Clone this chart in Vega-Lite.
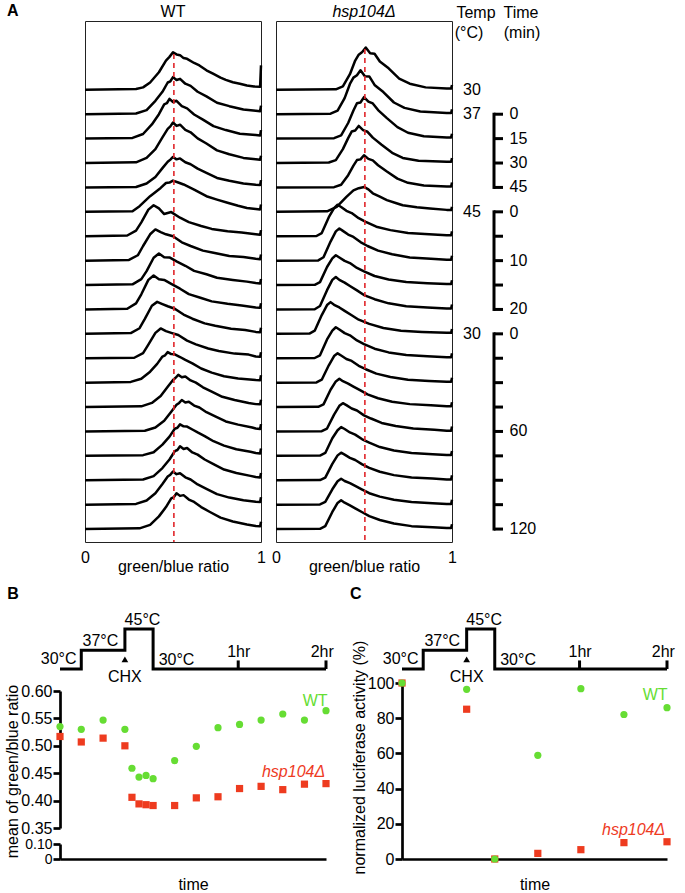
{
"$schema": "https://vega.github.io/schema/vega-lite/v6.json",
"padding": {"left": 4, "top": 2, "right": 4, "bottom": 2},
"background": "white",
"config": {
  "font": "Liberation Sans",
  "view": {"stroke": null},
  "axis": {"labelFont": "Liberation Sans", "titleFont": "Liberation Sans", "labelFontSize": 16, "titleFontSize": 16, "titleFontWeight": "normal", "labelColor": "black", "titleColor": "black", "domainColor": "black", "tickColor": "black", "grid": false, "labelOverlap": false},
  "text": {"font": "Liberation Sans", "fontSize": 16, "color": "black"}
},
"datasets": {
"wt": [
{"c":0,"x":0,"d":0},{"c":0,"x":0.29,"d":0.03},{"c":0,"x":0.33,"d":0.1},{"c":0,"x":0.37,"d":0.3},{"c":0,"x":0.42,"d":0.72},{"c":0,"x":0.46,"d":1.2},{"c":0,"x":0.48,"d":1.35},{"c":0,"x":0.5,"d":1.54},{"c":0,"x":0.52,"d":1.45},{"c":0,"x":0.54,"d":1.42},{"c":0,"x":0.56,"d":1.3},{"c":0,"x":0.58,"d":1.27},{"c":0,"x":0.62,"d":1.1},{"c":0,"x":0.65,"d":1.0},{"c":0,"x":0.69,"d":0.8},{"c":0,"x":0.73,"d":0.65},{"c":0,"x":0.77,"d":0.5},{"c":0,"x":0.8,"d":0.41},{"c":0,"x":0.84,"d":0.31},{"c":0,"x":0.88,"d":0.25},{"c":0,"x":0.92,"d":0.18},{"c":0,"x":0.96,"d":0.14},{"c":0,"x":0.995,"d":0.13},{"c":0,"x":1,"d":1.0},
{"c":1,"x":0,"d":0},{"c":1,"x":0.29,"d":0.03},{"c":1,"x":0.35,"d":0.17},{"c":1,"x":0.4,"d":0.55},{"c":1,"x":0.44,"d":0.92},{"c":1,"x":0.47,"d":1.3},{"c":1,"x":0.485,"d":1.35},{"c":1,"x":0.5,"d":1.52},{"c":1,"x":0.52,"d":1.4},{"c":1,"x":0.54,"d":1.45},{"c":1,"x":0.57,"d":1.25},{"c":1,"x":0.6,"d":1.16},{"c":1,"x":0.64,"d":0.92},{"c":1,"x":0.69,"d":0.73},{"c":1,"x":0.75,"d":0.47},{"c":1,"x":0.82,"d":0.33},{"c":1,"x":0.9,"d":0.19},{"c":1,"x":0.97,"d":0.14},{"c":1,"x":0.995,"d":0.12},{"c":1,"x":1,"d":0.35},
{"c":2,"x":0,"d":0},{"c":2,"x":0.27,"d":0.03},{"c":2,"x":0.33,"d":0.19},{"c":2,"x":0.38,"d":0.58},{"c":2,"x":0.42,"d":1.0},{"c":2,"x":0.45,"d":1.4},{"c":2,"x":0.465,"d":1.45},{"c":2,"x":0.48,"d":1.63},{"c":2,"x":0.5,"d":1.5},{"c":2,"x":0.52,"d":1.55},{"c":2,"x":0.55,"d":1.33},{"c":2,"x":0.58,"d":1.24},{"c":2,"x":0.62,"d":0.99},{"c":2,"x":0.67,"d":0.78},{"c":2,"x":0.73,"d":0.51},{"c":2,"x":0.8,"d":0.35},{"c":2,"x":0.88,"d":0.2},{"c":2,"x":0.97,"d":0.15},{"c":2,"x":0.995,"d":0.13},{"c":2,"x":1,"d":0.35},
{"c":3,"x":0,"d":0},{"c":3,"x":0.29,"d":0.03},{"c":3,"x":0.35,"d":0.21},{"c":3,"x":0.4,"d":0.57},{"c":3,"x":0.44,"d":1.05},{"c":3,"x":0.47,"d":1.4},{"c":3,"x":0.485,"d":1.5},{"c":3,"x":0.5,"d":1.66},{"c":3,"x":0.52,"d":1.52},{"c":3,"x":0.54,"d":1.57},{"c":3,"x":0.57,"d":1.36},{"c":3,"x":0.6,"d":1.26},{"c":3,"x":0.64,"d":1.01},{"c":3,"x":0.69,"d":0.8},{"c":3,"x":0.75,"d":0.52},{"c":3,"x":0.82,"d":0.36},{"c":3,"x":0.9,"d":0.21},{"c":3,"x":0.97,"d":0.15},{"c":3,"x":0.995,"d":0.13},{"c":3,"x":1,"d":0.3},
{"c":4,"x":0,"d":0},{"c":4,"x":0.29,"d":0.02},{"c":4,"x":0.35,"d":0.16},{"c":4,"x":0.4,"d":0.43},{"c":4,"x":0.44,"d":0.79},{"c":4,"x":0.47,"d":1.05},{"c":4,"x":0.485,"d":1.14},{"c":4,"x":0.5,"d":1.25},{"c":4,"x":0.52,"d":1.15},{"c":4,"x":0.54,"d":1.19},{"c":4,"x":0.57,"d":1.03},{"c":4,"x":0.6,"d":0.95},{"c":4,"x":0.64,"d":0.77},{"c":4,"x":0.69,"d":0.6},{"c":4,"x":0.75,"d":0.39},{"c":4,"x":0.82,"d":0.27},{"c":4,"x":0.9,"d":0.16},{"c":4,"x":0.97,"d":0.11},{"c":4,"x":0.995,"d":0.1},{"c":4,"x":1,"d":0.3},
{"c":5,"x":0,"d":0},{"c":5,"x":0.27,"d":0.02},{"c":5,"x":0.31,"d":0.23},{"c":5,"x":0.37,"d":0.64},{"c":5,"x":0.43,"d":0.98},{"c":5,"x":0.46,"d":1.18},{"c":5,"x":0.48,"d":1.2},{"c":5,"x":0.5,"d":1.28},{"c":5,"x":0.53,"d":1.2},{"c":5,"x":0.56,"d":1.12},{"c":5,"x":0.62,"d":0.91},{"c":5,"x":0.69,"d":0.64},{"c":5,"x":0.75,"d":0.5},{"c":5,"x":0.81,"d":0.37},{"c":5,"x":0.87,"d":0.25},{"c":5,"x":0.92,"d":0.16},{"c":5,"x":0.97,"d":0.12},{"c":5,"x":0.995,"d":0.1},{"c":5,"x":1,"d":0.3},
{"c":6,"x":0,"d":0},{"c":6,"x":0.24,"d":0.03},{"c":6,"x":0.29,"d":0.23},{"c":6,"x":0.32,"d":0.57},{"c":6,"x":0.36,"d":1.09},{"c":6,"x":0.39,"d":1.27},{"c":6,"x":0.42,"d":1.14},{"c":6,"x":0.45,"d":0.91},{"c":6,"x":0.49,"d":0.99},{"c":6,"x":0.54,"d":0.76},{"c":6,"x":0.59,"d":0.58},{"c":6,"x":0.66,"d":0.42},{"c":6,"x":0.72,"d":0.3},{"c":6,"x":0.81,"d":0.2},{"c":6,"x":0.89,"d":0.15},{"c":6,"x":0.97,"d":0.08},{"c":6,"x":0.995,"d":0.06},{"c":6,"x":1,"d":0.25},
{"c":7,"x":0,"d":0},{"c":7,"x":0.25,"d":0.03},{"c":7,"x":0.3,"d":0.22},{"c":7,"x":0.33,"d":0.6},{"c":7,"x":0.37,"d":1.08},{"c":7,"x":0.4,"d":1.28},{"c":7,"x":0.43,"d":1.17},{"c":7,"x":0.46,"d":1.08},{"c":7,"x":0.5,"d":1.0},{"c":7,"x":0.55,"d":0.75},{"c":7,"x":0.6,"d":0.6},{"c":7,"x":0.67,"d":0.41},{"c":7,"x":0.73,"d":0.32},{"c":7,"x":0.82,"d":0.19},{"c":7,"x":0.9,"d":0.15},{"c":7,"x":0.97,"d":0.08},{"c":7,"x":0.995,"d":0.06},{"c":7,"x":1,"d":0.25},
{"c":8,"x":0,"d":0},{"c":8,"x":0.27,"d":0.03},{"c":8,"x":0.32,"d":0.24},{"c":8,"x":0.35,"d":0.57},{"c":8,"x":0.39,"d":1.12},{"c":8,"x":0.42,"d":1.29},{"c":8,"x":0.45,"d":1.14},{"c":8,"x":0.48,"d":1.13},{"c":8,"x":0.52,"d":0.97},{"c":8,"x":0.57,"d":0.79},{"c":8,"x":0.62,"d":0.58},{"c":8,"x":0.69,"d":0.44},{"c":8,"x":0.75,"d":0.3},{"c":8,"x":0.84,"d":0.21},{"c":8,"x":0.92,"d":0.14},{"c":8,"x":0.97,"d":0.08},{"c":8,"x":0.995,"d":0.06},{"c":8,"x":1,"d":0.25},
{"c":9,"x":0,"d":0},{"c":9,"x":0.24,"d":0.03},{"c":9,"x":0.29,"d":0.25},{"c":9,"x":0.32,"d":0.62},{"c":9,"x":0.36,"d":1.21},{"c":9,"x":0.39,"d":1.39},{"c":9,"x":0.42,"d":1.24},{"c":9,"x":0.45,"d":1.21},{"c":9,"x":0.49,"d":1.05},{"c":9,"x":0.54,"d":0.85},{"c":9,"x":0.59,"d":0.63},{"c":9,"x":0.66,"d":0.47},{"c":9,"x":0.72,"d":0.33},{"c":9,"x":0.81,"d":0.23},{"c":9,"x":0.89,"d":0.16},{"c":9,"x":0.97,"d":0.08},{"c":9,"x":0.995,"d":0.07},{"c":9,"x":1,"d":0.25},
{"c":10,"x":0,"d":0},{"c":10,"x":0.26,"d":0.03},{"c":10,"x":0.31,"d":0.23},{"c":10,"x":0.34,"d":0.61},{"c":10,"x":0.38,"d":1.15},{"c":10,"x":0.41,"d":1.31},{"c":10,"x":0.44,"d":1.22},{"c":10,"x":0.47,"d":1.13},{"c":10,"x":0.51,"d":1.03},{"c":10,"x":0.56,"d":0.79},{"c":10,"x":0.61,"d":0.62},{"c":10,"x":0.68,"d":0.43},{"c":10,"x":0.74,"d":0.33},{"c":10,"x":0.83,"d":0.21},{"c":10,"x":0.91,"d":0.16},{"c":10,"x":0.97,"d":0.08},{"c":10,"x":0.995,"d":0.07},{"c":10,"x":1,"d":0.25},
{"c":11,"x":0,"d":0},{"c":11,"x":0.28,"d":0.02},{"c":11,"x":0.33,"d":0.21},{"c":11,"x":0.36,"d":0.56},{"c":11,"x":0.4,"d":1.04},{"c":11,"x":0.43,"d":1.22},{"c":11,"x":0.46,"d":1.11},{"c":11,"x":0.49,"d":1.04},{"c":11,"x":0.53,"d":0.95},{"c":11,"x":0.58,"d":0.72},{"c":11,"x":0.63,"d":0.57},{"c":11,"x":0.7,"d":0.4},{"c":11,"x":0.76,"d":0.3},{"c":11,"x":0.85,"d":0.19},{"c":11,"x":0.93,"d":0.15},{"c":11,"x":0.97,"d":0.07},{"c":11,"x":0.995,"d":0.06},{"c":11,"x":1,"d":0.25},
{"c":12,"x":0,"d":0},{"c":12,"x":0.26,"d":0.03},{"c":12,"x":0.32,"d":0.16},{"c":12,"x":0.37,"d":0.45},{"c":12,"x":0.41,"d":0.77},{"c":12,"x":0.44,"d":1.07},{"c":12,"x":0.455,"d":1.12},{"c":12,"x":0.47,"d":1.25},{"c":12,"x":0.49,"d":1.17},{"c":12,"x":0.51,"d":1.16},{"c":12,"x":0.54,"d":1.05},{"c":12,"x":0.57,"d":0.93},{"c":12,"x":0.61,"d":0.79},{"c":12,"x":0.66,"d":0.58},{"c":12,"x":0.72,"d":0.41},{"c":12,"x":0.79,"d":0.26},{"c":12,"x":0.87,"d":0.17},{"c":12,"x":0.97,"d":0.11},{"c":12,"x":0.995,"d":0.1},{"c":12,"x":1,"d":0.3},
{"c":13,"x":0,"d":0},{"c":13,"x":0.32,"d":0.03},{"c":13,"x":0.38,"d":0.17},{"c":13,"x":0.43,"d":0.45},{"c":13,"x":0.47,"d":0.83},{"c":13,"x":0.5,"d":1.11},{"c":13,"x":0.515,"d":1.2},{"c":13,"x":0.53,"d":1.32},{"c":13,"x":0.55,"d":1.22},{"c":13,"x":0.57,"d":1.25},{"c":13,"x":0.6,"d":1.09},{"c":13,"x":0.63,"d":1.0},{"c":13,"x":0.67,"d":0.81},{"c":13,"x":0.72,"d":0.63},{"c":13,"x":0.78,"d":0.42},{"c":13,"x":0.85,"d":0.29},{"c":13,"x":0.93,"d":0.17},{"c":13,"x":0.97,"d":0.12},{"c":13,"x":0.995,"d":0.11},{"c":13,"x":1,"d":0.3},
{"c":14,"x":0,"d":0},{"c":14,"x":0.34,"d":0.03},{"c":14,"x":0.4,"d":0.16},{"c":14,"x":0.45,"d":0.44},{"c":14,"x":0.49,"d":0.81},{"c":14,"x":0.52,"d":1.09},{"c":14,"x":0.535,"d":1.17},{"c":14,"x":0.55,"d":1.29},{"c":14,"x":0.57,"d":1.19},{"c":14,"x":0.59,"d":1.22},{"c":14,"x":0.62,"d":1.06},{"c":14,"x":0.65,"d":0.98},{"c":14,"x":0.69,"d":0.79},{"c":14,"x":0.74,"d":0.62},{"c":14,"x":0.8,"d":0.41},{"c":14,"x":0.87,"d":0.28},{"c":14,"x":0.95,"d":0.16},{"c":14,"x":0.97,"d":0.12},{"c":14,"x":0.995,"d":0.1},{"c":14,"x":1,"d":0.3},
{"c":15,"x":0,"d":0},{"c":15,"x":0.33,"d":0.03},{"c":15,"x":0.39,"d":0.15},{"c":15,"x":0.44,"d":0.46},{"c":15,"x":0.48,"d":0.79},{"c":15,"x":0.51,"d":1.11},{"c":15,"x":0.525,"d":1.15},{"c":15,"x":0.54,"d":1.29},{"c":15,"x":0.56,"d":1.21},{"c":15,"x":0.58,"d":1.2},{"c":15,"x":0.61,"d":1.08},{"c":15,"x":0.64,"d":0.96},{"c":15,"x":0.68,"d":0.81},{"c":15,"x":0.73,"d":0.6},{"c":15,"x":0.79,"d":0.42},{"c":15,"x":0.86,"d":0.27},{"c":15,"x":0.94,"d":0.17},{"c":15,"x":0.97,"d":0.12},{"c":15,"x":0.995,"d":0.1},{"c":15,"x":1,"d":0.3},
{"c":16,"x":0,"d":0},{"c":16,"x":0.33,"d":0.03},{"c":16,"x":0.39,"d":0.17},{"c":16,"x":0.44,"d":0.5},{"c":16,"x":0.48,"d":0.85},{"c":16,"x":0.51,"d":1.19},{"c":16,"x":0.525,"d":1.24},{"c":16,"x":0.54,"d":1.39},{"c":16,"x":0.56,"d":1.28},{"c":16,"x":0.58,"d":1.32},{"c":16,"x":0.61,"d":1.14},{"c":16,"x":0.64,"d":1.05},{"c":16,"x":0.68,"d":0.85},{"c":16,"x":0.73,"d":0.66},{"c":16,"x":0.79,"d":0.44},{"c":16,"x":0.86,"d":0.3},{"c":16,"x":0.94,"d":0.18},{"c":16,"x":0.97,"d":0.13},{"c":16,"x":0.995,"d":0.11},{"c":16,"x":1,"d":0.3},
{"c":17,"x":0,"d":0},{"c":17,"x":0.29,"d":0.03},{"c":17,"x":0.35,"d":0.17},{"c":17,"x":0.4,"d":0.47},{"c":17,"x":0.44,"d":0.85},{"c":17,"x":0.47,"d":1.15},{"c":17,"x":0.485,"d":1.23},{"c":17,"x":0.5,"d":1.36},{"c":17,"x":0.52,"d":1.25},{"c":17,"x":0.54,"d":1.29},{"c":17,"x":0.57,"d":1.12},{"c":17,"x":0.6,"d":1.03},{"c":17,"x":0.64,"d":0.83},{"c":17,"x":0.69,"d":0.65},{"c":17,"x":0.75,"d":0.43},{"c":17,"x":0.82,"d":0.29},{"c":17,"x":0.9,"d":0.18},{"c":17,"x":0.97,"d":0.12},{"c":17,"x":0.995,"d":0.11},{"c":17,"x":1,"d":0.3},
{"c":18,"x":0,"d":0},{"c":18,"x":0.31,"d":0.03},{"c":18,"x":0.37,"d":0.17},{"c":18,"x":0.42,"d":0.52},{"c":18,"x":0.46,"d":0.9},{"c":18,"x":0.49,"d":1.26},{"c":18,"x":0.505,"d":1.31},{"c":18,"x":0.52,"d":1.47},{"c":18,"x":0.54,"d":1.36},{"c":18,"x":0.56,"d":1.39},{"c":18,"x":0.59,"d":1.21},{"c":18,"x":0.62,"d":1.11},{"c":18,"x":0.66,"d":0.9},{"c":18,"x":0.71,"d":0.7},{"c":18,"x":0.77,"d":0.47},{"c":18,"x":0.84,"d":0.31},{"c":18,"x":0.92,"d":0.19},{"c":18,"x":0.97,"d":0.13},{"c":18,"x":0.995,"d":0.12},{"c":18,"x":1,"d":0.3}
],
"hsp": [
{"c":0,"x":0,"d":0},{"c":0,"x":0.34,"d":0.02},{"c":0,"x":0.38,"d":0.14},{"c":0,"x":0.42,"d":0.64},{"c":0,"x":0.45,"d":1.2},{"c":0,"x":0.47,"d":1.44},{"c":0,"x":0.49,"d":1.55},{"c":0,"x":0.51,"d":1.73},{"c":0,"x":0.535,"d":1.5},{"c":0,"x":0.56,"d":1.48},{"c":0,"x":0.59,"d":1.16},{"c":0,"x":0.64,"d":0.88},{"c":0,"x":0.7,"d":0.46},{"c":0,"x":0.76,"d":0.25},{"c":0,"x":0.85,"d":0.1},{"c":0,"x":0.97,"d":0.05},{"c":0,"x":0.995,"d":0.05},{"c":0,"x":1,"d":0.2},
{"c":1,"x":0,"d":0},{"c":1,"x":0.31,"d":0.02},{"c":1,"x":0.35,"d":0.15},{"c":1,"x":0.39,"d":0.66},{"c":1,"x":0.42,"d":1.24},{"c":1,"x":0.44,"d":1.5},{"c":1,"x":0.46,"d":1.6},{"c":1,"x":0.48,"d":1.8},{"c":1,"x":0.505,"d":1.56},{"c":1,"x":0.53,"d":1.55},{"c":1,"x":0.56,"d":1.2},{"c":1,"x":0.61,"d":0.91},{"c":1,"x":0.67,"d":0.48},{"c":1,"x":0.73,"d":0.26},{"c":1,"x":0.82,"d":0.11},{"c":1,"x":0.97,"d":0.05},{"c":1,"x":0.995,"d":0.05},{"c":1,"x":1,"d":0.2},
{"c":2,"x":0,"d":0},{"c":2,"x":0.33,"d":0.02},{"c":2,"x":0.37,"d":0.13},{"c":2,"x":0.41,"d":0.64},{"c":2,"x":0.44,"d":1.15},{"c":2,"x":0.46,"d":1.45},{"c":2,"x":0.48,"d":1.48},{"c":2,"x":0.5,"d":1.7},{"c":2,"x":0.525,"d":1.52},{"c":2,"x":0.55,"d":1.44},{"c":2,"x":0.58,"d":1.17},{"c":2,"x":0.63,"d":0.84},{"c":2,"x":0.69,"d":0.47},{"c":2,"x":0.75,"d":0.24},{"c":2,"x":0.84,"d":0.1},{"c":2,"x":0.97,"d":0.05},{"c":2,"x":0.995,"d":0.05},{"c":2,"x":1,"d":0.2},
{"c":3,"x":0,"d":0},{"c":3,"x":0.3,"d":0.02},{"c":3,"x":0.34,"d":0.12},{"c":3,"x":0.38,"d":0.57},{"c":3,"x":0.41,"d":1.02},{"c":3,"x":0.43,"d":1.29},{"c":3,"x":0.45,"d":1.33},{"c":3,"x":0.47,"d":1.52},{"c":3,"x":0.495,"d":1.35},{"c":3,"x":0.52,"d":1.28},{"c":3,"x":0.55,"d":1.04},{"c":3,"x":0.6,"d":0.75},{"c":3,"x":0.66,"d":0.42},{"c":3,"x":0.72,"d":0.21},{"c":3,"x":0.81,"d":0.09},{"c":3,"x":0.97,"d":0.05},{"c":3,"x":0.995,"d":0.05},{"c":3,"x":1,"d":0.2},
{"c":4,"x":0,"d":0},{"c":4,"x":0.33,"d":0.01},{"c":4,"x":0.37,"d":0.11},{"c":4,"x":0.41,"d":0.5},{"c":4,"x":0.44,"d":0.89},{"c":4,"x":0.46,"d":1.12},{"c":4,"x":0.48,"d":1.15},{"c":4,"x":0.5,"d":1.32},{"c":4,"x":0.525,"d":1.17},{"c":4,"x":0.55,"d":1.11},{"c":4,"x":0.58,"d":0.91},{"c":4,"x":0.63,"d":0.65},{"c":4,"x":0.69,"d":0.36},{"c":4,"x":0.75,"d":0.19},{"c":4,"x":0.84,"d":0.08},{"c":4,"x":0.97,"d":0.04},{"c":4,"x":0.995,"d":0.04},{"c":4,"x":1,"d":0.2},
{"c":5,"x":0,"d":0},{"c":5,"x":0.29,"d":0.02},{"c":5,"x":0.345,"d":0.2},{"c":5,"x":0.4,"d":0.61},{"c":5,"x":0.44,"d":0.88},{"c":5,"x":0.47,"d":0.97},{"c":5,"x":0.5,"d":1.02},{"c":5,"x":0.525,"d":0.92},{"c":5,"x":0.55,"d":0.76},{"c":5,"x":0.59,"d":0.62},{"c":5,"x":0.63,"d":0.48},{"c":5,"x":0.68,"d":0.36},{"c":5,"x":0.72,"d":0.27},{"c":5,"x":0.8,"d":0.19},{"c":5,"x":0.875,"d":0.14},{"c":5,"x":0.97,"d":0.08},{"c":5,"x":0.995,"d":0.07},{"c":5,"x":1,"d":0.2},
{"c":6,"x":0,"d":0},{"c":6,"x":0.23,"d":0.01},{"c":6,"x":0.26,"d":0.13},{"c":6,"x":0.3,"d":0.78},{"c":6,"x":0.33,"d":1.15},{"c":6,"x":0.35,"d":1.29},{"c":6,"x":0.37,"d":1.2},{"c":6,"x":0.4,"d":1.04},{"c":6,"x":0.43,"d":0.95},{"c":6,"x":0.47,"d":0.74},{"c":6,"x":0.51,"d":0.59},{"c":6,"x":0.57,"d":0.39},{"c":6,"x":0.65,"d":0.25},{"c":6,"x":0.75,"d":0.13},{"c":6,"x":0.87,"d":0.08},{"c":6,"x":0.97,"d":0.04},{"c":6,"x":0.995,"d":0.04},{"c":6,"x":1,"d":0.2},
{"c":7,"x":0,"d":0},{"c":7,"x":0.24,"d":0.01},{"c":7,"x":0.27,"d":0.14},{"c":7,"x":0.31,"d":0.78},{"c":7,"x":0.34,"d":1.2},{"c":7,"x":0.36,"d":1.32},{"c":7,"x":0.38,"d":1.22},{"c":7,"x":0.41,"d":1.07},{"c":7,"x":0.44,"d":0.97},{"c":7,"x":0.48,"d":0.76},{"c":7,"x":0.52,"d":0.6},{"c":7,"x":0.58,"d":0.41},{"c":7,"x":0.66,"d":0.26},{"c":7,"x":0.76,"d":0.13},{"c":7,"x":0.88,"d":0.08},{"c":7,"x":0.97,"d":0.04},{"c":7,"x":0.995,"d":0.04},{"c":7,"x":1,"d":0.2},
{"c":8,"x":0,"d":0},{"c":8,"x":0.22,"d":0.01},{"c":8,"x":0.25,"d":0.12},{"c":8,"x":0.29,"d":0.74},{"c":8,"x":0.32,"d":1.09},{"c":8,"x":0.34,"d":1.22},{"c":8,"x":0.36,"d":1.13},{"c":8,"x":0.39,"d":0.99},{"c":8,"x":0.42,"d":0.9},{"c":8,"x":0.46,"d":0.7},{"c":8,"x":0.5,"d":0.56},{"c":8,"x":0.56,"d":0.37},{"c":8,"x":0.64,"d":0.23},{"c":8,"x":0.74,"d":0.12},{"c":8,"x":0.86,"d":0.07},{"c":8,"x":0.97,"d":0.04},{"c":8,"x":0.995,"d":0.04},{"c":8,"x":1,"d":0.2},
{"c":9,"x":0,"d":0},{"c":9,"x":0.22,"d":0.01},{"c":9,"x":0.25,"d":0.14},{"c":9,"x":0.29,"d":0.79},{"c":9,"x":0.32,"d":1.21},{"c":9,"x":0.34,"d":1.33},{"c":9,"x":0.36,"d":1.21},{"c":9,"x":0.39,"d":1.1},{"c":9,"x":0.42,"d":0.96},{"c":9,"x":0.46,"d":0.78},{"c":9,"x":0.5,"d":0.59},{"c":9,"x":0.56,"d":0.42},{"c":9,"x":0.64,"d":0.25},{"c":9,"x":0.74,"d":0.13},{"c":9,"x":0.86,"d":0.08},{"c":9,"x":0.97,"d":0.04},{"c":9,"x":0.995,"d":0.04},{"c":9,"x":1,"d":0.2},
{"c":10,"x":0,"d":0},{"c":10,"x":0.19,"d":0.01},{"c":10,"x":0.22,"d":0.13},{"c":10,"x":0.26,"d":0.77},{"c":10,"x":0.29,"d":1.18},{"c":10,"x":0.31,"d":1.3},{"c":10,"x":0.33,"d":1.19},{"c":10,"x":0.36,"d":1.08},{"c":10,"x":0.39,"d":0.94},{"c":10,"x":0.43,"d":0.76},{"c":10,"x":0.47,"d":0.58},{"c":10,"x":0.53,"d":0.41},{"c":10,"x":0.61,"d":0.24},{"c":10,"x":0.71,"d":0.13},{"c":10,"x":0.83,"d":0.08},{"c":10,"x":0.97,"d":0.04},{"c":10,"x":0.995,"d":0.04},{"c":10,"x":1,"d":0.2},
{"c":11,"x":0,"d":0},{"c":11,"x":0.22,"d":0.01},{"c":11,"x":0.25,"d":0.12},{"c":11,"x":0.29,"d":0.77},{"c":11,"x":0.32,"d":1.13},{"c":11,"x":0.34,"d":1.27},{"c":11,"x":0.36,"d":1.18},{"c":11,"x":0.39,"d":1.03},{"c":11,"x":0.42,"d":0.94},{"c":11,"x":0.46,"d":0.73},{"c":11,"x":0.5,"d":0.58},{"c":11,"x":0.56,"d":0.39},{"c":11,"x":0.64,"d":0.24},{"c":11,"x":0.74,"d":0.13},{"c":11,"x":0.86,"d":0.08},{"c":11,"x":0.97,"d":0.04},{"c":11,"x":0.995,"d":0.04},{"c":11,"x":1,"d":0.2},
{"c":12,"x":0,"d":0},{"c":12,"x":0.23,"d":0.01},{"c":12,"x":0.26,"d":0.12},{"c":12,"x":0.3,"d":0.71},{"c":12,"x":0.33,"d":1.09},{"c":12,"x":0.35,"d":1.2},{"c":12,"x":0.37,"d":1.11},{"c":12,"x":0.4,"d":0.97},{"c":12,"x":0.43,"d":0.89},{"c":12,"x":0.47,"d":0.69},{"c":12,"x":0.51,"d":0.55},{"c":12,"x":0.57,"d":0.37},{"c":12,"x":0.65,"d":0.23},{"c":12,"x":0.75,"d":0.12},{"c":12,"x":0.87,"d":0.07},{"c":12,"x":0.97,"d":0.04},{"c":12,"x":0.995,"d":0.04},{"c":12,"x":1,"d":0.2},
{"c":13,"x":0,"d":0},{"c":13,"x":0.24,"d":0.01},{"c":13,"x":0.27,"d":0.11},{"c":13,"x":0.31,"d":0.71},{"c":13,"x":0.34,"d":1.05},{"c":13,"x":0.36,"d":1.16},{"c":13,"x":0.38,"d":1.06},{"c":13,"x":0.41,"d":0.96},{"c":13,"x":0.44,"d":0.84},{"c":13,"x":0.48,"d":0.68},{"c":13,"x":0.52,"d":0.52},{"c":13,"x":0.58,"d":0.36},{"c":13,"x":0.66,"d":0.22},{"c":13,"x":0.76,"d":0.12},{"c":13,"x":0.88,"d":0.07},{"c":13,"x":0.97,"d":0.03},{"c":13,"x":0.995,"d":0.03},{"c":13,"x":1,"d":0.2},
{"c":14,"x":0,"d":0},{"c":14,"x":0.26,"d":0.01},{"c":14,"x":0.29,"d":0.12},{"c":14,"x":0.33,"d":0.69},{"c":14,"x":0.36,"d":1.05},{"c":14,"x":0.38,"d":1.16},{"c":14,"x":0.4,"d":1.08},{"c":14,"x":0.43,"d":0.94},{"c":14,"x":0.46,"d":0.86},{"c":14,"x":0.5,"d":0.66},{"c":14,"x":0.54,"d":0.53},{"c":14,"x":0.6,"d":0.35},{"c":14,"x":0.68,"d":0.22},{"c":14,"x":0.78,"d":0.12},{"c":14,"x":0.9,"d":0.07},{"c":14,"x":0.97,"d":0.03},{"c":14,"x":0.995,"d":0.03},{"c":14,"x":1,"d":0.2},
{"c":15,"x":0,"d":0},{"c":15,"x":0.25,"d":0.01},{"c":15,"x":0.28,"d":0.12},{"c":15,"x":0.32,"d":0.72},{"c":15,"x":0.35,"d":1.05},{"c":15,"x":0.37,"d":1.18},{"c":15,"x":0.39,"d":1.1},{"c":15,"x":0.42,"d":0.96},{"c":15,"x":0.45,"d":0.87},{"c":15,"x":0.49,"d":0.68},{"c":15,"x":0.53,"d":0.54},{"c":15,"x":0.59,"d":0.36},{"c":15,"x":0.67,"d":0.22},{"c":15,"x":0.77,"d":0.12},{"c":15,"x":0.89,"d":0.07},{"c":15,"x":0.97,"d":0.04},{"c":15,"x":0.995,"d":0.04},{"c":15,"x":1,"d":0.2},
{"c":16,"x":0,"d":0},{"c":16,"x":0.25,"d":0.01},{"c":16,"x":0.28,"d":0.11},{"c":16,"x":0.32,"d":0.67},{"c":16,"x":0.35,"d":1.02},{"c":16,"x":0.37,"d":1.13},{"c":16,"x":0.39,"d":1.05},{"c":16,"x":0.42,"d":0.92},{"c":16,"x":0.45,"d":0.83},{"c":16,"x":0.49,"d":0.65},{"c":16,"x":0.53,"d":0.51},{"c":16,"x":0.59,"d":0.35},{"c":16,"x":0.67,"d":0.21},{"c":16,"x":0.77,"d":0.11},{"c":16,"x":0.89,"d":0.07},{"c":16,"x":0.97,"d":0.03},{"c":16,"x":0.995,"d":0.03},{"c":16,"x":1,"d":0.2},
{"c":17,"x":0,"d":0},{"c":17,"x":0.25,"d":0.01},{"c":17,"x":0.28,"d":0.11},{"c":17,"x":0.32,"d":0.63},{"c":17,"x":0.35,"d":0.96},{"c":17,"x":0.37,"d":1.06},{"c":17,"x":0.39,"d":0.97},{"c":17,"x":0.42,"d":0.88},{"c":17,"x":0.45,"d":0.77},{"c":17,"x":0.49,"d":0.62},{"c":17,"x":0.53,"d":0.47},{"c":17,"x":0.59,"d":0.33},{"c":17,"x":0.67,"d":0.2},{"c":17,"x":0.77,"d":0.11},{"c":17,"x":0.89,"d":0.06},{"c":17,"x":0.97,"d":0.03},{"c":17,"x":0.995,"d":0.03},{"c":17,"x":1,"d":0.2},
{"c":18,"x":0,"d":0},{"c":18,"x":0.25,"d":0.01},{"c":18,"x":0.28,"d":0.12},{"c":18,"x":0.32,"d":0.7},{"c":18,"x":0.35,"d":1.07},{"c":18,"x":0.37,"d":1.18},{"c":18,"x":0.39,"d":1.08},{"c":18,"x":0.42,"d":0.97},{"c":18,"x":0.45,"d":0.85},{"c":18,"x":0.49,"d":0.69},{"c":18,"x":0.53,"d":0.53},{"c":18,"x":0.59,"d":0.37},{"c":18,"x":0.67,"d":0.23},{"c":18,"x":0.77,"d":0.12},{"c":18,"x":0.89,"d":0.07},{"c":18,"x":0.97,"d":0.04},{"c":18,"x":0.995,"d":0.04},{"c":18,"x":1,"d":0.2}
],
"sch": [{"t":0,"T":30,"i":0},{"t":8,"T":30,"i":1},{"t":8,"T":37,"i":2},{"t":24.4,"T":37,"i":3},{"t":24.4,"T":45,"i":4},{"t":35,"T":45,"i":5},{"t":35,"T":30,"i":6},{"t":100,"T":30,"i":7}],
"labs": [{"t":-0.5,"T":33.8,"s":"30°C"},{"t":15.2,"T":40.3,"s":"37°C"},{"t":31,"T":48.4,"s":"45°C"},{"t":43.8,"T":33.2,"s":"30°C"},{"t":67.2,"T":36.4,"s":"1hr"},{"t":98.6,"T":36.4,"s":"2hr"}],
"b": [
{"s":"hsp104Δ","t":0,"v":0.517},{"s":"hsp104Δ","t":8,"v":0.507},{"s":"hsp104Δ","t":16.2,"v":0.514},{"s":"hsp104Δ","t":24.4,"v":0.5},{"s":"hsp104Δ","t":27.05,"v":0.406},{"s":"hsp104Δ","t":29.7,"v":0.394},{"s":"hsp104Δ","t":32.35,"v":0.3925},{"s":"hsp104Δ","t":35,"v":0.391},{"s":"hsp104Δ","t":43.1,"v":0.391},{"s":"hsp104Δ","t":51.25,"v":0.405},{"s":"hsp104Δ","t":59.4,"v":0.407},{"s":"hsp104Δ","t":67.5,"v":0.422},{"s":"hsp104Δ","t":75.6,"v":0.426},{"s":"hsp104Δ","t":83.75,"v":0.42},{"s":"hsp104Δ","t":91.9,"v":0.43},{"s":"hsp104Δ","t":100,"v":0.431},
{"s":"WT","t":0,"v":0.535},{"s":"WT","t":8,"v":0.53},{"s":"WT","t":16.2,"v":0.547},{"s":"WT","t":24.4,"v":0.53},{"s":"WT","t":27.05,"v":0.459},{"s":"WT","t":29.7,"v":0.443},{"s":"WT","t":32.35,"v":0.446},{"s":"WT","t":35,"v":0.44},{"s":"WT","t":43.1,"v":0.473},{"s":"WT","t":51.25,"v":0.499},{"s":"WT","t":59.4,"v":0.533},{"s":"WT","t":67.5,"v":0.539},{"s":"WT","t":75.6,"v":0.547},{"s":"WT","t":83.75,"v":0.558},{"s":"WT","t":91.9,"v":0.547},{"s":"WT","t":100,"v":0.564}
],
"cdat": [
{"s":"hsp104Δ","t":0,"v":100},{"s":"hsp104Δ","t":24.4,"v":85.1},{"s":"hsp104Δ","t":35,"v":0},{"s":"hsp104Δ","t":51.25,"v":3.2},{"s":"hsp104Δ","t":67.5,"v":5.3},{"s":"hsp104Δ","t":83.75,"v":9.3},{"s":"hsp104Δ","t":100,"v":9.8},
{"s":"WT","t":0,"v":100},{"s":"WT","t":24.4,"v":96.4},{"s":"WT","t":35,"v":0},{"s":"WT","t":51.25,"v":58.9},{"s":"WT","t":67.5,"v":96.8},{"s":"WT","t":83.75,"v":82.1},{"s":"WT","t":100,"v":86}
]
},
"vconcat": [
{
"hconcat": [
{
"width": 10, "height": 521,
"data": {"values": [{}]},
"mark": {"type": "text", "text": ""}
},
{
"width": 176, "height": 521,
"view": {"stroke": "#222222", "strokeWidth": 1},
"layer": [
{"data": {"name": "wt"}, "transform": [{"calculate": "18 - datum.c + datum.d", "as": "yy"}],
 "mark": {"type": "line", "color": "black", "strokeWidth": 2.5, "strokeJoin": "round"},
 "encoding": {
  "x": {"field": "x", "type": "quantitative", "scale": {"domain": [0, 1], "nice": false, "zero": false}, "axis": {"values": [0, 1], "format": "d", "ticks": false, "domain": false, "labelPadding": 7, "labelFlush": false, "labelOverlap": false, "title": "green/blue ratio", "titleY": 16, "titleBaseline": "top"}},
  "y": {"field": "yy", "type": "quantitative", "scale": {"domain": [-0.53, 20.82], "nice": false, "zero": false}, "axis": null},
  "detail": {"field": "c", "type": "nominal"}
 }},
{"data": {"values": [{}]}, "mark": {"type": "rule", "color": "#e0262b", "strokeWidth": 1.6, "strokeDash": [5, 4]}, "encoding": {"x": {"datum": 0.505, "type": "quantitative"}, "y": {"datum": 19.47, "type": "quantitative"}, "y2": {"datum": -0.53}}},
{"data": {"values": [{}]}, "mark": {"type": "text", "text": "WT", "align": "center", "baseline": "middle"}, "encoding": {"x": {"datum": 0.5, "type": "quantitative"}, "y": {"datum": 21.19, "type": "quantitative"}}},
{"data": {"values": [{}]}, "mark": {"type": "text", "text": "A", "fontWeight": "bold", "align": "center", "baseline": "middle"}, "encoding": {"x": {"datum": -0.41, "type": "quantitative"}, "y": {"datum": 21.23, "type": "quantitative"}}}
]
},
{
"width": 176, "height": 521,
"view": {"stroke": "#222222", "strokeWidth": 1},
"layer": [
{"data": {"name": "hsp"}, "transform": [{"calculate": "18 - datum.c + datum.d", "as": "yy"}],
 "mark": {"type": "line", "color": "black", "strokeWidth": 2.5, "strokeJoin": "round"},
 "encoding": {
  "x": {"field": "x", "type": "quantitative", "scale": {"domain": [0, 1], "nice": false, "zero": false}, "axis": {"values": [0, 1], "format": "d", "ticks": false, "domain": false, "labelPadding": 7, "labelFlush": false, "labelOverlap": false, "title": "green/blue ratio", "titleY": 16, "titleBaseline": "top"}},
  "y": {"field": "yy", "type": "quantitative", "scale": {"domain": [-0.53, 20.82], "nice": false, "zero": false}, "axis": null},
  "detail": {"field": "c", "type": "nominal"}
 }},
{"data": {"values": [{}]}, "mark": {"type": "rule", "color": "#e0262b", "strokeWidth": 1.6, "strokeDash": [5, 4]}, "encoding": {"x": {"datum": 0.505, "type": "quantitative"}, "y": {"datum": 19.67, "type": "quantitative"}, "y2": {"datum": -0.53}}},
{"data": {"values": [{}]}, "mark": {"type": "text", "text": "hsp104Δ", "fontStyle": "italic", "align": "center", "baseline": "middle"}, "encoding": {"x": {"datum": 0.5, "type": "quantitative"}, "y": {"datum": 21.19, "type": "quantitative"}}}
]
},
{
"width": 100, "height": 521,
"layer": [
{"data": {"values": [{"c":0,"t":"30"},{"c":1,"t":"37"},{"c":5,"t":"45"},{"c":10,"t":"30"}]},
 "mark": {"type": "text", "align": "center", "baseline": "middle"},
 "encoding": {"x": {"datum": 5, "type": "quantitative", "scale": {"domain": [0, 100], "nice": false, "zero": false}, "axis": null}, "y": {"field": "c", "type": "quantitative", "scale": {"domain": [18.53, -2.82], "nice": false, "zero": false}, "axis": null}, "text": {"field": "t"}}},
{"data": {"values": [{"c1":1,"c2":4},{"c1":5,"c2":9},{"c1":10,"c2":18}]},
 "mark": {"type": "rule", "strokeWidth": 3, "color": "black", "strokeCap": "square"},
 "encoding": {"x": {"datum": 27, "type": "quantitative"}, "y": {"field": "c1", "type": "quantitative"}, "y2": {"field": "c2"}}},
{"data": {"values": [{"c":1},{"c":2},{"c":3},{"c":4},{"c":5},{"c":6},{"c":7},{"c":8},{"c":9},{"c":10},{"c":11},{"c":12},{"c":13},{"c":14},{"c":15},{"c":16},{"c":17},{"c":18}]},
 "mark": {"type": "rule", "strokeWidth": 3, "color": "black"},
 "encoding": {"x": {"datum": 27, "type": "quantitative"}, "x2": {"datum": 36}, "y": {"field": "c", "type": "quantitative"}}},
{"data": {"values": [{"c":1,"t":"0"},{"c":2,"t":"15"},{"c":3,"t":"30"},{"c":4,"t":"45"},{"c":5,"t":"0"},{"c":7,"t":"10"},{"c":9,"t":"20"},{"c":10,"t":"0"},{"c":14,"t":"60"},{"c":18,"t":"120"}]},
 "mark": {"type": "text", "align": "left", "baseline": "middle"},
 "encoding": {"x": {"datum": 42.5, "type": "quantitative"}, "y": {"field": "c", "type": "quantitative"}, "text": {"field": "t"}}},
{"data": {"values": [{}]}, "mark": {"type": "text", "text": "Temp", "align": "center", "baseline": "middle"}, "encoding": {"x": {"datum": 9, "type": "quantitative"}, "y": {"datum": -3.15, "type": "quantitative"}}},
{"data": {"values": [{}]}, "mark": {"type": "text", "text": "(°C)", "align": "center", "baseline": "middle"}, "encoding": {"x": {"datum": 2, "type": "quantitative"}, "y": {"datum": -2.33, "type": "quantitative"}}},
{"data": {"values": [{}]}, "mark": {"type": "text", "text": "Time", "align": "center", "baseline": "middle"}, "encoding": {"x": {"datum": 54, "type": "quantitative"}, "y": {"datum": -3.15, "type": "quantitative"}}},
{"data": {"values": [{}]}, "mark": {"type": "text", "text": "(min)", "align": "center", "baseline": "middle"}, "encoding": {"x": {"datum": 55, "type": "quantitative"}, "y": {"datum": -2.33, "type": "quantitative"}}}
]
}
],
"spacing": 15, "bounds": "flush"
},
{
"hconcat": [
{
"vconcat": [
{
"width": 266, "height": 64,
"layer": [
{"data": {"name": "sch"}, "mark": {"type": "line", "color": "black", "strokeWidth": 3, "strokeJoin": "miter"},
 "encoding": {"x": {"field": "t", "type": "quantitative", "scale": {"domain": [0, 100], "nice": false, "zero": false}, "axis": null}, "y": {"field": "T", "type": "quantitative", "scale": {"domain": [27.75, 51.7], "nice": false, "zero": false}, "axis": null}, "order": {"field": "i", "type": "quantitative"}}},
{"data": {"values": [{"t": 67}, {"t": 100}]}, "mark": {"type": "rule", "strokeWidth": 3, "color": "black"}, "encoding": {"x": {"field": "t", "type": "quantitative"}, "y": {"datum": 30, "type": "quantitative"}, "y2": {"datum": 33.2}}},
{"data": {"name": "labs"}, "mark": {"type": "text", "align": "center", "baseline": "middle"}, "encoding": {"x": {"field": "t", "type": "quantitative"}, "y": {"field": "T", "type": "quantitative"}, "text": {"field": "s"}}},
{"data": {"values": [{"t": 24.4}]}, "mark": {"type": "point", "shape": "triangle-up", "filled": true, "color": "black", "size": 45, "opacity": 1}, "encoding": {"x": {"field": "t", "type": "quantitative"}, "y": {"datum": 33.6, "type": "quantitative"}}},
{"data": {"values": [{"t": 24.4}]}, "mark": {"type": "text", "text": "CHX", "align": "center", "baseline": "middle"}, "encoding": {"x": {"field": "t", "type": "quantitative"}, "y": {"datum": 27.0, "type": "quantitative"}}},
{"data": {"values": [{}]}, "mark": {"type": "text", "text": "B", "fontWeight": "bold", "align": "center", "baseline": "middle"}, "encoding": {"x": {"datum": -17.7, "type": "quantitative"}, "y": {"datum": 58.1, "type": "quantitative"}}}
]
},
{
"width": 266, "height": 137,
"layer": [
{"data": {"name": "b"}, "mark": {"type": "point", "filled": true, "opacity": 1, "size": 52},
 "encoding": {
  "x": {"field": "t", "type": "quantitative", "scale": {"domain": [0, 100], "nice": false, "zero": false}, "axis": null},
  "y": {"field": "v", "type": "quantitative", "scale": {"domain": [0.35, 0.6], "nice": false, "zero": false}, "axis": {"values": [0.35, 0.4, 0.45, 0.5, 0.55, 0.6], "tickCount": 20, "format": ".2f", "labelOverlap": false, "title": "mean of green/blue ratio", "titleX": -47.5, "titleY": 80, "titleAngle": 270, "titleAlign": "center", "titleBaseline": "middle", "domainWidth": 2.7, "tickWidth": 2.7, "tickSize": 7, "labelPadding": 1}},
  "color": {"field": "s", "type": "nominal", "scale": {"domain": ["WT", "hsp104Δ"], "range": ["#66dd33", "#ee3b1f"]}, "legend": null},
  "shape": {"field": "s", "type": "nominal", "scale": {"domain": ["WT", "hsp104Δ"], "range": ["circle", "square"]}, "legend": null}
 }},
{"data": {"values": [{}]}, "mark": {"type": "text", "text": "WT", "color": "#66dd33", "align": "center", "baseline": "middle"}, "encoding": {"x": {"datum": 95.9, "type": "quantitative"}, "y": {"datum": 0.582, "type": "quantitative"}}},
{"data": {"values": [{}]}, "mark": {"type": "text", "text": "hsp104Δ", "color": "#ee3b1f", "fontStyle": "italic", "align": "center", "baseline": "middle"}, "encoding": {"x": {"datum": 87.8, "type": "quantitative"}, "y": {"datum": 0.453, "type": "quantitative"}}}
]
},
{
"width": 266, "height": 15,
"data": {"name": "b"},
"transform": [{"filter": "datum.v < 0.1"}],
"mark": {"type": "point"},
"encoding": {
 "x": {"field": "t", "type": "quantitative", "scale": {"domain": [0, 100], "nice": false, "zero": false}, "axis": {"ticks": false, "labels": false, "domainWidth": 2.7, "title": "time", "titleY": 17, "titleBaseline": "top"}},
 "y": {"field": "v", "type": "quantitative", "scale": {"domain": [0, 0.1], "nice": false, "zero": false}, "axis": {"values": [0, 0.1], "tickCount": 20, "labelOverlap": false, "labelFontSize": 14, "labelExpr": "datum.value == 0 ? '0' : format(datum.value, '.2f')", "title": null, "domainWidth": 2.7, "tickWidth": 2.7, "tickSize": 7, "labelPadding": 1}}
}
}
],
"spacing": 16, "bounds": "flush"
},
{
"vconcat": [
{
"width": 265, "height": 64,
"layer": [
{"data": {"name": "sch"}, "mark": {"type": "line", "color": "black", "strokeWidth": 3, "strokeJoin": "miter"},
 "encoding": {"x": {"field": "t", "type": "quantitative", "scale": {"domain": [0, 100], "nice": false, "zero": false}, "axis": null}, "y": {"field": "T", "type": "quantitative", "scale": {"domain": [27.75, 51.7], "nice": false, "zero": false}, "axis": null}, "order": {"field": "i", "type": "quantitative"}}},
{"data": {"values": [{"t": 67}, {"t": 100}]}, "mark": {"type": "rule", "strokeWidth": 3, "color": "black"}, "encoding": {"x": {"field": "t", "type": "quantitative"}, "y": {"datum": 30, "type": "quantitative"}, "y2": {"datum": 33.2}}},
{"data": {"name": "labs"}, "mark": {"type": "text", "align": "center", "baseline": "middle"}, "encoding": {"x": {"field": "t", "type": "quantitative"}, "y": {"field": "T", "type": "quantitative"}, "text": {"field": "s"}}},
{"data": {"values": [{"t": 24.4}]}, "mark": {"type": "point", "shape": "triangle-up", "filled": true, "color": "black", "size": 45, "opacity": 1}, "encoding": {"x": {"field": "t", "type": "quantitative"}, "y": {"datum": 33.6, "type": "quantitative"}}},
{"data": {"values": [{"t": 24.4}]}, "mark": {"type": "text", "text": "CHX", "align": "center", "baseline": "middle"}, "encoding": {"x": {"field": "t", "type": "quantitative"}, "y": {"datum": 27.0, "type": "quantitative"}}},
{"data": {"values": [{}]}, "mark": {"type": "text", "text": "C", "fontWeight": "bold", "align": "center", "baseline": "middle"}, "encoding": {"x": {"datum": -17.4, "type": "quantitative"}, "y": {"datum": 58.1, "type": "quantitative"}}}
]
},
{
"width": 265, "height": 176,
"layer": [
{"data": {"name": "cdat"}, "mark": {"type": "point", "filled": true, "opacity": 1, "size": 52},
 "encoding": {
  "x": {"field": "t", "type": "quantitative", "scale": {"domain": [0, 100], "nice": false, "zero": false}, "axis": {"ticks": false, "labels": false, "domainWidth": 2.7, "title": "time", "titleY": 17, "titleBaseline": "top"}},
  "y": {"field": "v", "type": "quantitative", "scale": {"domain": [0, 100], "nice": false, "zero": false}, "axis": {"values": [0, 20, 40, 60, 80, 100], "tickCount": 20, "labelOverlap": false, "title": "normalized luciferase activity (%)", "titleX": -43, "titleY": 74, "titleAngle": 270, "titleAlign": "center", "titleBaseline": "middle", "domainWidth": 2.7, "tickWidth": 2.7, "tickSize": 7, "labelPadding": 1}},
  "color": {"field": "s", "type": "nominal", "scale": {"domain": ["WT", "hsp104Δ"], "range": ["#66dd33", "#ee3b1f"]}, "legend": null},
  "shape": {"field": "s", "type": "nominal", "scale": {"domain": ["WT", "hsp104Δ"], "range": ["circle", "square"]}, "legend": null}
 }},
{"data": {"values": [{}]}, "mark": {"type": "text", "text": "WT", "color": "#66dd33", "align": "center", "baseline": "middle"}, "encoding": {"x": {"datum": 95.5, "type": "quantitative"}, "y": {"datum": 93.2, "type": "quantitative"}}},
{"data": {"values": [{}]}, "mark": {"type": "text", "text": "hsp104Δ", "color": "#ee3b1f", "fontStyle": "italic", "align": "center", "baseline": "middle"}, "encoding": {"x": {"datum": 87.4, "type": "quantitative"}, "y": {"datum": 16.2, "type": "quantitative"}}}
]
}
],
"spacing": 8, "bounds": "flush"
}
],
"spacing": 16
}
],
"spacing": 10
}
